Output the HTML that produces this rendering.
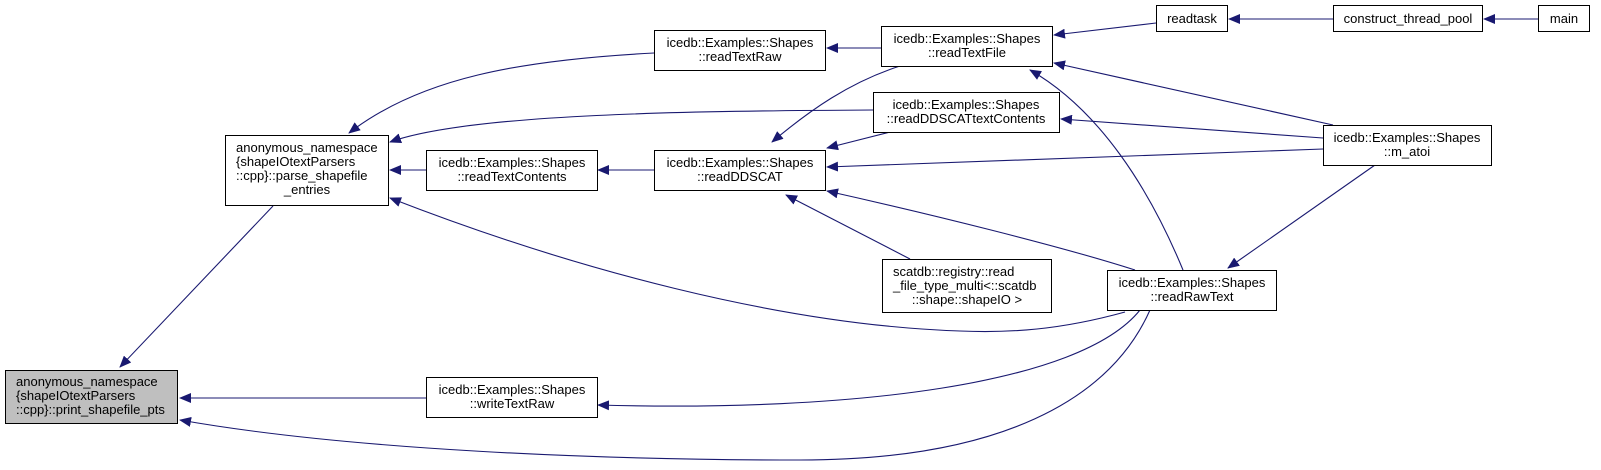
<!DOCTYPE html>
<html><head><meta charset="utf-8"><style>
html,body{margin:0;padding:0;background:#fff;}
svg{display:block;}
text{font-family:"Liberation Sans",sans-serif;font-size:13px;fill:#000;}
</style></head><body>
<svg width="1601" height="470" viewBox="0 0 1601 470" xmlns="http://www.w3.org/2000/svg">
<defs>
<marker id="a" markerWidth="12" markerHeight="10" refX="11" refY="5" orient="auto" markerUnits="userSpaceOnUse">
<path d="M0,0 L12,5 L0,10 Z" fill="#191970"/>
</marker>
</defs>
<g fill="none" stroke="#191970" stroke-width="1.1" marker-end="url(#a)">
<path d="M273,206 L120,367"/>
<path d="M426,398 L180,398"/>
<path d="M1150,310 C1110,400 1000,460 800,460 C600,460 350,450 180,420"/>
<path d="M1140,310 C1080,385 850,412 598,405"/>
<path d="M654,53 C520,60 420,78 349,133"/>
<path d="M873,110 C700,111 470,113 390,142"/>
<path d="M426,170 L390,170"/>
<path d="M1125,312 C1060,330 1010,333 960,331 C780,325 570,268 390,198"/>
<path d="M654,170 L598,170"/>
<path d="M881,48 L827,48"/>
<path d="M900,66 C850,82 810,110 772,142"/>
<path d="M890,132 L827,148"/>
<path d="M1323,149 L827,167"/>
<path d="M1135,270 C1060,246 930,214 827,191"/>
<path d="M910,259 L786,195"/>
<path d="M1156,23 L1054,35"/>
<path d="M1333,19 L1229,19"/>
<path d="M1538,19 L1484,19"/>
<path d="M1333,125 L1054,63"/>
<path d="M1183,270 C1150,190 1100,110 1030,70"/>
<path d="M1323,138 L1061,119"/>
<path d="M1375,165 L1228,268"/>
</g>
<g stroke="#000" stroke-width="1" fill="#fff">
<rect x="5.5" y="370.5" width="172" height="53" fill="#bfbfbf"/>
<rect x="225.5" y="135.5" width="163" height="70"/>
<rect x="654.5" y="30.5" width="171" height="40"/>
<rect x="881.5" y="26.5" width="171" height="40"/>
<rect x="873.5" y="92.5" width="186" height="40"/>
<rect x="654.5" y="150.5" width="171" height="40"/>
<rect x="882.5" y="259.5" width="169" height="53"/>
<rect x="426.5" y="150.5" width="171" height="40"/>
<rect x="1107.5" y="270.5" width="169" height="40"/>
<rect x="1156.5" y="5.5" width="71" height="26"/>
<rect x="1333.5" y="5.5" width="149" height="26"/>
<rect x="1538.5" y="5.5" width="51" height="26"/>
<rect x="1323.5" y="125.5" width="168" height="40"/>
<rect x="426.5" y="377.5" width="171" height="40"/>
</g>
<g>
<text x="16" y="386">anonymous_namespace</text>
<text x="16" y="400">{shapeIOtextParsers</text>
<text x="16" y="414">::cpp}::print_shapefile_pts</text>
<text x="236" y="152">anonymous_namespace</text>
<text x="236" y="166">{shapeIOtextParsers</text>
<text x="236" y="180">::cpp}::parse_shapefile</text>
<text x="307" y="194" text-anchor="middle">_entries</text>
<g text-anchor="middle">
<text x="740" y="47">icedb::Examples::Shapes</text>
<text x="740" y="61">::readTextRaw</text>
<text x="967" y="43">icedb::Examples::Shapes</text>
<text x="967" y="57">::readTextFile</text>
<text x="966" y="109">icedb::Examples::Shapes</text>
<text x="966" y="123">::readDDSCATtextContents</text>
<text x="740" y="167">icedb::Examples::Shapes</text>
<text x="740" y="181">::readDDSCAT</text>
<text x="512" y="167">icedb::Examples::Shapes</text>
<text x="512" y="181">::readTextContents</text>
<text x="1192" y="287">icedb::Examples::Shapes</text>
<text x="1192" y="301">::readRawText</text>
<text x="1192" y="23">readtask</text>
<text x="1408" y="23">construct_thread_pool</text>
<text x="1564" y="23">main</text>
<text x="1407" y="142">icedb::Examples::Shapes</text>
<text x="1407" y="156">::m_atoi</text>
<text x="512" y="394">icedb::Examples::Shapes</text>
<text x="512" y="408">::writeTextRaw</text>
<text x="967" y="304">::shape::shapeIO &gt;</text>
</g>
<text x="893" y="276">scatdb::registry::read</text>
<text x="893" y="290">_file_type_multi&lt;::scatdb</text>
</g>
</svg>
</body></html>
